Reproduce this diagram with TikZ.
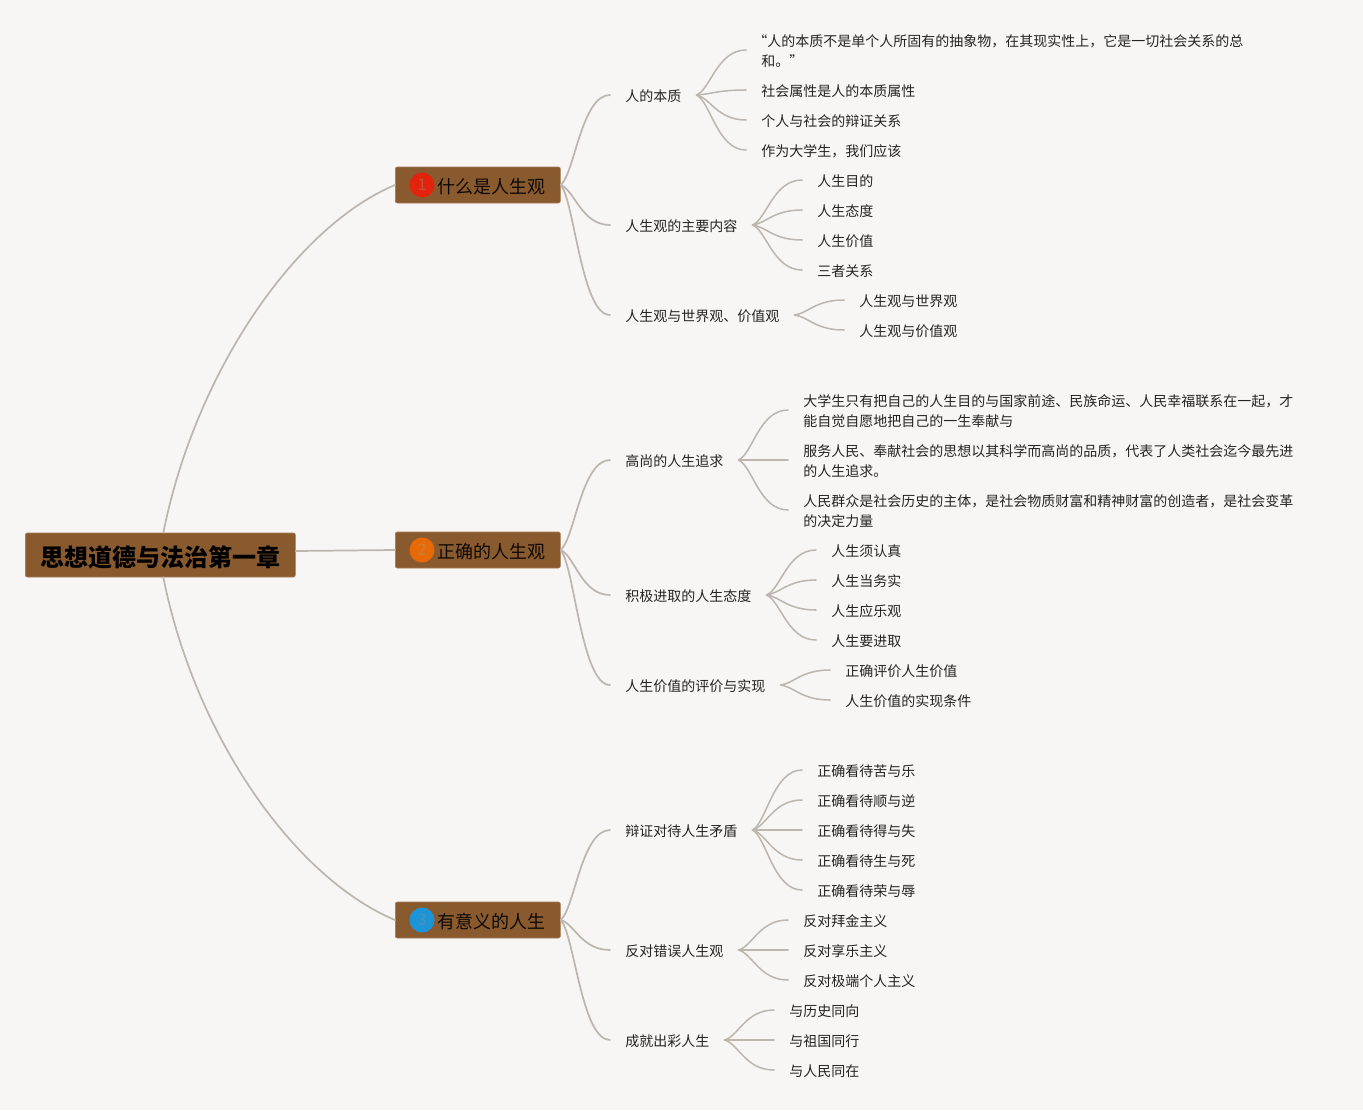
\documentclass[tikz,border=0pt]{standalone}
\usepackage{fontspec}
\setmainfont{Noto Sans CJK SC}
\usetikzlibrary{calc}
\definecolor{paper}{HTML}{F8F6F5}
\definecolor{boxfill}{HTML}{8A5A2F}
\definecolor{boxedge}{HTML}{A27A55}
\definecolor{wire}{HTML}{BDB6AF}
\definecolor{ink}{HTML}{262422}
\definecolor{badgeA}{HTML}{E2230D}
\definecolor{badgeAt}{HTML}{C8503A}
\definecolor{badgeB}{HTML}{E86A06}
\definecolor{badgeBt}{HTML}{C4803F}
\definecolor{badgeC}{HTML}{1C94D8}
\definecolor{badgeCt}{HTML}{4F8FB5}
\tikzset{
  x=0.75pt,y=-0.75pt,
  rootbox/.style={draw=boxedge,line width=0.5pt,fill=boxfill,rounded corners=1.5pt,inner xsep=11.25pt,inner ysep=0pt,minimum height=33pt,anchor=west,text height=18pt,text depth=1.3pt,font=\fontsize{18pt}{22pt}\selectfont\bfseries,text=black},
  topicbox/.style={draw=boxedge,line width=0.5pt,fill=boxfill,rounded corners=1.5pt,inner xsep=11.25pt,inner ysep=0pt,minimum height=27pt,anchor=west,text height=14pt,text depth=0.8pt,font=\fontsize{13.5pt}{16pt}\selectfont,text=black!90!boxfill},
  badge/.style={circle,inner sep=0pt,minimum size=18.75pt,font=\fontsize{12pt}{14pt}\selectfont},
  leaf/.style={anchor=west,yshift=0.75pt,inner xsep=11.25pt,inner ysep=0pt,font=\fontsize{10.5pt}{15pt}\selectfont,text=ink,execute at begin node={\rule{0pt}{10.7pt}}},
  link/.style={draw=wire,line width=1.3pt,line cap=round},
  twig/.style={draw=wire,line width=1.15pt,line cap=round},
}
\newcommand{\joinnodes}[3][twig]{%
  \draw[#1] let \p1=(#2.east),\p2=(#3.west) in
    (\p1) .. controls ({\x1+0.28*(\x2-\x1)},{\y1+0.12*(\y2-\y1)}) and ({\x1+0.42*(\x2-\x1)},{\y2}) .. (\p2);}
\newcommand{\twolines}[2]{\raisebox{-1.7pt}[\height][\depth]{\begin{tabular}[c]{@{}l@{}}#1\\#2\end{tabular}}}
\begin{document}
\begin{tikzpicture}
\path[use as bounding box,fill=paper] (0,0) rectangle (1363,1110);

% root and topics
\node[rootbox] (root) at (25,555) {思想道德与法治第一章};
\node[topicbox] (t1) at (395,185) {\hspace*{20.25pt}什么是人生观};
\node[topicbox] (t2) at (395,550) {\hspace*{20.25pt}正确的人生观};
\node[topicbox] (t3) at (395,920) {\hspace*{20.25pt}有意义的人生};
\node[badge,fill=badgeA,text=badgeAt] (b1) at (422,185) {1};
\node[badge,fill=badgeB,text=badgeBt] (b2) at (422,550) {2};
\node[badge,fill=badgeC,text=badgeCt] (b3) at (422,920) {3};

% second level
\node[leaf] (a1) at (610,96) {人的本质};
\node[leaf] (a2) at (610,226) {人生观的主要内容};
\node[leaf] (a3) at (610,316) {人生观与世界观、价值观};
\node[leaf] (b1n) at (610,461) {高尚的人生追求};
\node[leaf] (b2n) at (610,596) {积极进取的人生态度};
\node[leaf] (b3n) at (610,686) {人生价值的评价与实现};
\node[leaf] (c1n) at (610,831) {辩证对待人生矛盾};
\node[leaf] (c2n) at (610,951) {反对错误人生观};
\node[leaf] (c3n) at (610,1041) {成就出彩人生};

% leaves
\node[leaf] (a11) at (746,51) {\twolines{\hspace*{-6pt}“人的本质不是单个人所固有的抽象物，在其现实性上，它是一切社会关系的总}{和。”}};
\node[leaf] (a12) at (746,91) {社会属性是人的本质属性};
\node[leaf] (a13) at (746,121) {个人与社会的辩证关系};
\node[leaf] (a14) at (746,151) {作为大学生，我们应该};
\node[leaf] (a21) at (802,181) {人生目的};
\node[leaf] (a22) at (802,211) {人生态度};
\node[leaf] (a23) at (802,241) {人生价值};
\node[leaf] (a24) at (802,271) {三者关系};
\node[leaf] (a31) at (844,301) {人生观与世界观};
\node[leaf] (a32) at (844,331) {人生观与价值观};

\node[leaf] (b11) at (788,411) {\twolines{大学生只有把自己的人生目的与国家前途、民族命运、人民幸福联系在一起，才}{能自觉自愿地把自己的一生奉献与}};
\node[leaf] (b12) at (788,461) {\twolines{服务人民、奉献社会的思想以其科学而高尚的品质，代表了人类社会迄今最先进}{的人生追求。}};
\node[leaf] (b13) at (788,511) {\twolines{人民群众是社会历史的主体，是社会物质财富和精神财富的创造者，是社会变革}{的决定力量}};
\node[leaf] (b21) at (816,551) {人生须认真};
\node[leaf] (b22) at (816,581) {人生当务实};
\node[leaf] (b23) at (816,611) {人生应乐观};
\node[leaf] (b24) at (816,641) {人生要进取};
\node[leaf] (b31) at (830,671) {正确评价人生价值};
\node[leaf] (b32) at (830,701) {人生价值的实现条件};

\node[leaf] (c11) at (802,771) {正确看待苦与乐};
\node[leaf] (c12) at (802,801) {正确看待顺与逆};
\node[leaf] (c13) at (802,831) {正确看待得与失};
\node[leaf] (c14) at (802,861) {正确看待生与死};
\node[leaf] (c15) at (802,891) {正确看待荣与辱};
\node[leaf] (c21) at (788,921) {反对拜金主义};
\node[leaf] (c22) at (788,951) {反对享乐主义};
\node[leaf] (c23) at (788,981) {反对极端个人主义};
\node[leaf] (c31) at (774,1011) {与历史同向};
\node[leaf] (c32) at (774,1041) {与祖国同行};
\node[leaf] (c33) at (774,1071) {与人民同在};

% root connectors
\draw[link] ($(root.north)+(3,0)$) .. controls +(32,-160) and +(-100,42) .. (t1.west);
\draw[link] ($(root.east)+(0,-4)$) -- (t2.west);
\draw[link] ($(root.south)+(3,0)$) .. controls +(32,160) and +(-100,-42) .. (t3.west);

% topic to second level
\foreach \srcn/\dstn in {t1/a1,t1/a2,t1/a3,t2/b1n,t2/b2n,t2/b3n,t3/c1n,t3/c2n,t3/c3n}{\joinnodes[link]{\srcn}{\dstn}}

% second level to leaves
\foreach \dstn in {a11,a12,a13,a14}{\joinnodes{a1}{\dstn}}
\foreach \dstn in {a21,a22,a23,a24}{\joinnodes{a2}{\dstn}}
\foreach \dstn in {a31,a32}{\joinnodes{a3}{\dstn}}
\foreach \dstn in {b11,b12,b13}{\joinnodes{b1n}{\dstn}}
\foreach \dstn in {b21,b22,b23,b24}{\joinnodes{b2n}{\dstn}}
\foreach \dstn in {b31,b32}{\joinnodes{b3n}{\dstn}}
\foreach \dstn in {c11,c12,c13,c14,c15}{\joinnodes{c1n}{\dstn}}
\foreach \dstn in {c21,c22,c23}{\joinnodes{c2n}{\dstn}}
\foreach \dstn in {c31,c32,c33}{\joinnodes{c3n}{\dstn}}
\end{tikzpicture}
\end{document}
